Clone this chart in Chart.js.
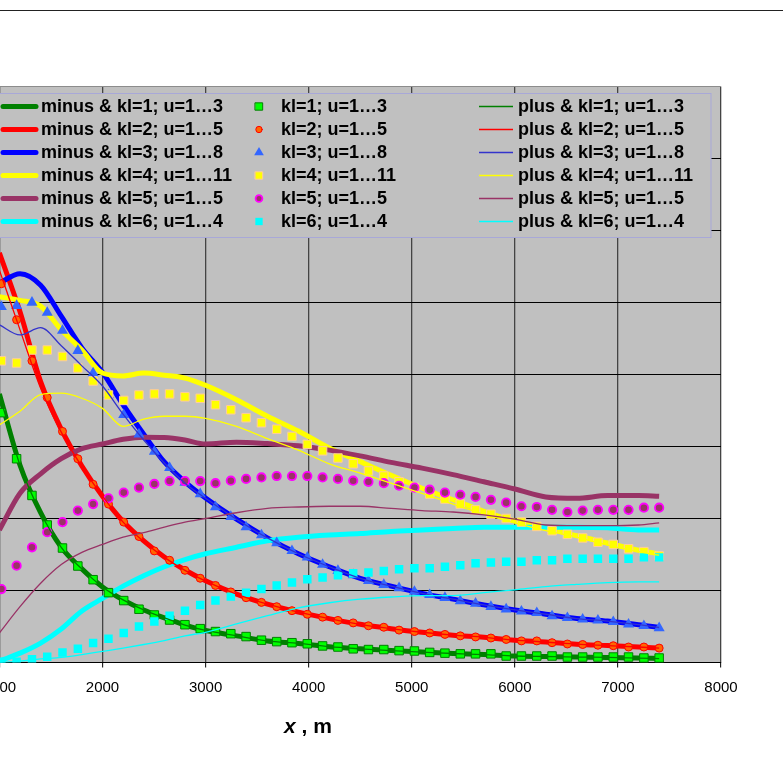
<!DOCTYPE html>
<html>
<head>
<meta charset="utf-8">
<script src="https://cdn.jsdelivr.net/npm/chart.js@4.4.1/dist/chart.umd.min.js"></script>
<style>
  html, body { margin: 0; padding: 0; background: #fff; overflow: hidden; width: 783px; height: 772px; }
  #page { position: relative; width: 783px; height: 772px; overflow: hidden; }
  #rule { position: absolute; left: 0; top: 10px; width: 783px; height: 1px; background: #222; }
  #wrap { position: absolute; left: -40px; top: 0; }
</style>
</head>
<body>
<div id="page">
  <div id="rule"></div>
  <div id="wrap"><canvas id="c" width="823" height="772"></canvas></div>
</div>
<script>
// x positions of the marker series (m)
const markX = [1019, 1167, 1316, 1464, 1612, 1761, 1909, 2058, 2206, 2354, 2503, 2651, 2800, 2948, 3096,
  3245, 3393, 3542, 3690, 3838, 3987, 4135, 4284, 4432, 4580, 4729, 4877, 5026, 5174, 5322, 5471,
  5619, 5768, 5916, 6064, 6213, 6361, 6510, 6658, 6806, 6955, 7103, 7252, 7400];

// x positions sampled for the curves (m)
const lineX = [1000, 1200, 1400, 1600, 1800, 2000, 2200, 2400, 2600, 2800, 3000, 3300, 3600, 3900,
  4200, 4500, 4800, 5100, 5400, 5700, 6000, 6300, 6600, 6900, 7200, 7400];

// "minus" curves
const minusKl1 = [3.73, 2.74, 2.08, 1.60, 1.30, 1.05, 0.87, 0.73, 0.62, 0.52, 0.445, 0.37, 0.30, 0.265, 0.22, 0.19, 0.165, 0.145, 0.125, 0.11, 0.09, 0.083, 0.076, 0.07, 0.062, 0.055];
const minusKl2 = [5.69, 4.87, 3.90, 3.24, 2.73, 2.31, 1.96, 1.69, 1.465, 1.285, 1.135, 0.95, 0.81, 0.70, 0.61, 0.53, 0.47, 0.42, 0.38, 0.35, 0.31, 0.285, 0.255, 0.235, 0.215, 0.20];
const minusKl3 = [5.27, 5.40, 5.24, 4.81, 4.37, 4.03, 3.58, 3.17, 2.785, 2.51, 2.285, 1.99, 1.73, 1.51, 1.33, 1.17, 1.06, 0.96, 0.88, 0.80, 0.73, 0.67, 0.61, 0.575, 0.525, 0.486];
const minusKl4 = [5.08, 5.03, 4.95, 4.62, 4.34, 4.02, 3.98, 4.02, 3.99, 3.95, 3.85, 3.65, 3.42, 3.215, 2.98, 2.79, 2.60, 2.42, 2.26, 2.10, 1.965, 1.87, 1.76, 1.66, 1.56, 1.51];
const minusKl5 = [1.84, 2.35, 2.62, 2.83, 2.97, 3.035, 3.10, 3.13, 3.125, 3.09, 3.035, 3.06, 3.04, 3.01, 2.95, 2.87, 2.78, 2.70, 2.61, 2.51, 2.41, 2.30, 2.28, 2.32, 2.32, 2.31];
const minusKl6 = [0.02, 0.13, 0.27, 0.465, 0.715, 0.89, 1.06, 1.205, 1.33, 1.43, 1.51, 1.60, 1.69, 1.74, 1.77, 1.79, 1.82, 1.84, 1.86, 1.88, 1.88, 1.88, 1.88, 1.87, 1.84, 1.84];

// marker series
const markKl1 = [3.47, 2.83, 2.32, 1.91, 1.59, 1.34, 1.15, 0.97, 0.86, 0.74, 0.66, 0.59, 0.525, 0.47, 0.43, 0.40, 0.36, 0.31, 0.29, 0.275,
  0.26, 0.23, 0.215, 0.19, 0.18, 0.18, 0.165, 0.16, 0.14, 0.13, 0.12, 0.12, 0.12, 0.09, 0.09, 0.09, 0.09, 0.076, 0.076, 0.076, 0.076, 0.076, 0.0625, 0.0625];
const markKl2 = [5.26, 4.76, 4.19, 3.68, 3.21, 2.83, 2.475, 2.20, 1.95, 1.75, 1.55, 1.42, 1.28, 1.17, 1.07, 0.98, 0.90, 0.835, 0.775, 0.72,
  0.67, 0.63, 0.585, 0.55, 0.51, 0.49, 0.45, 0.43, 0.41, 0.39, 0.37, 0.355, 0.34, 0.32, 0.30, 0.30, 0.275, 0.257, 0.25, 0.24, 0.233, 0.215, 0.215, 0.20];
const markKl3 = [4.94, 4.955, 5.00, 4.86, 4.61, 4.33, 4.02, 3.715, 3.44, 3.17, 2.93, 2.705, 2.50, 2.34, 2.16, 2.025, 1.88, 1.77, 1.66, 1.55,
  1.46, 1.36, 1.275, 1.215, 1.135, 1.08, 1.035, 0.985, 0.94, 0.90, 0.855, 0.82, 0.775, 0.74, 0.71, 0.69, 0.645, 0.62, 0.60, 0.585, 0.565, 0.53, 0.51, 0.48];
const markKl4 = [4.19, 4.16, 4.34, 4.34, 4.25, 4.09, 3.91, 3.715, 3.64, 3.715, 3.73, 3.73, 3.69, 3.67, 3.58, 3.51, 3.40, 3.33, 3.24, 3.14,
  3.03, 2.94, 2.84, 2.76, 2.66, 2.59, 2.51, 2.43, 2.34, 2.27, 2.20, 2.12, 2.06, 2.00, 1.95, 1.89, 1.83, 1.78, 1.73, 1.67, 1.64, 1.58, 1.54, 1.48];
const markKl5 = [1.02, 1.345, 1.60, 1.81, 1.95, 2.11, 2.20, 2.28, 2.36, 2.43, 2.48, 2.52, 2.52, 2.52, 2.49, 2.525, 2.55, 2.57, 2.59, 2.59,
  2.59, 2.57, 2.55, 2.525, 2.51, 2.49, 2.455, 2.43, 2.40, 2.36, 2.33, 2.30, 2.26, 2.22, 2.17, 2.16, 2.12, 2.09, 2.11, 2.12, 2.12, 2.12, 2.15, 2.15];
const markKl6 = [0.01, 0.01, 0.045, 0.08, 0.14, 0.19, 0.27, 0.33, 0.41, 0.50, 0.57, 0.65, 0.72, 0.80, 0.86, 0.915, 0.97, 1.02, 1.07, 1.11,
  1.155, 1.18, 1.21, 1.24, 1.25, 1.27, 1.295, 1.31, 1.31, 1.33, 1.35, 1.38, 1.39, 1.40, 1.40, 1.42, 1.42, 1.44, 1.44, 1.44, 1.44, 1.44, 1.46, 1.46];

// "plus" curves (kl=1 lies under the thick green one)
const plusKl1 = [3.73, 2.74, 2.08, 1.60, 1.30, 1.05, 0.87, 0.73, 0.62, 0.52, 0.445, 0.37, 0.30, 0.265, 0.22, 0.19, 0.165, 0.145, 0.125, 0.11, 0.09, 0.083, 0.076, 0.07, 0.062, 0.055];
const plusKl2 = [5.45, 4.62, 3.81, 3.20, 2.72, 2.31, 1.95, 1.68, 1.46, 1.28, 1.13, 0.95, 0.81, 0.70, 0.61, 0.53, 0.47, 0.42, 0.38, 0.35, 0.31, 0.285, 0.255, 0.235, 0.215, 0.20];
const plusKl3 = [4.69, 4.55, 4.65, 4.40, 4.12, 3.84, 3.45, 3.09, 2.77, 2.49, 2.28, 1.99, 1.73, 1.51, 1.33, 1.17, 1.06, 0.96, 0.88, 0.80, 0.73, 0.67, 0.61, 0.575, 0.525, 0.486];
const plusKl4 = [3.30, 3.49, 3.72, 3.74, 3.67, 3.53, 3.28, 3.38, 3.42, 3.42, 3.39, 3.28, 3.11, 2.95, 2.76, 2.63, 2.49, 2.35, 2.20, 2.06, 1.94, 1.83, 1.74, 1.63, 1.54, 1.49];
const plusKl5 = [0.41, 0.775, 1.10, 1.36, 1.53, 1.64, 1.74, 1.805, 1.88, 1.95, 2.00, 2.08, 2.14, 2.16, 2.17, 2.17, 2.14, 2.11, 2.09, 2.05, 1.99, 1.91, 1.90, 1.90, 1.91, 1.94];
const plusKl6 = [0.00, 0.02, 0.05, 0.07, 0.11, 0.155, 0.20, 0.25, 0.305, 0.37, 0.42, 0.535, 0.65, 0.76, 0.83, 0.88, 0.91, 0.93, 0.93, 0.97, 1.01, 1.055, 1.085, 1.11, 1.12, 1.12];

const uRanges = ['1\u20263', '1\u20265', '1\u20268', '1\u202611', '1\u20265', '1\u20264'];
const xTicks = [1000, 2000, 3000, 4000, 5000, 6000, 7000, 8000];
const xTickLabels = ['1000', '2000', '3000', '4000', '5000', '6000', '7000', '8000'];
const xTitleParts = ['x', ' , m'];   // italic symbol, then unit

// styles
const thickColors = ['#008000', '#FF0000', '#0000FF', '#FFFF00', '#993366', '#00FFFF'];
const thinColors = ['#008000', '#FF0000', '#3333CC', '#FFFF00', '#993366', '#00FFFF'];
const markStyles = [
  { style: 'rect', r: 6.0, fill: '#00FF00', line: '#008000', bw: 1 },
  { style: 'circle', r: 4.0, fill: '#FF6600', line: '#FF0000', bw: 1 },
  { style: 'triangle', r: 6.4, fill: '#3366FF', line: '#3366FF', bw: 0 },
  { style: 'rect', r: 6.0, fill: '#FFFF00', line: '#FFCC99', bw: 1 },
  { style: 'circle', r: 4.2, fill: '#993366', line: '#FF00FF', bw: 1.8 },
  { style: 'rect', r: 6.0, fill: '#00FFFF', line: '#00FFFF', bw: 0 }
];
const FONT = '"Liberation Sans", Arial, sans-serif';

const minusSeries = [minusKl1, minusKl2, minusKl3, minusKl4, minusKl5, minusKl6];
const markSeries = [markKl1, markKl2, markKl3, markKl4, markKl5, markKl6];
const plusSeries = [plusKl1, plusKl2, plusKl3, plusKl4, plusKl5, plusKl6];

const toXY = (xs, ys) => xs.map((x, i) => ({ x: x, y: ys[i] }));

const datasets = [];
minusSeries.forEach((ys, k) => {
  datasets.push({
    label: 'minus & kl=' + (k + 1) + '; u=' + uRanges[k],
    data: toXY(lineX, ys),
    showLine: true,
    borderColor: thickColors[k],
    borderWidth: 5,
    pointRadius: 0,
    cubicInterpolationMode: 'monotone',
    order: 19 - k,
    kind: 'thick'
  });
});
markSeries.forEach((ys, k) => {
  const m = markStyles[k];
  datasets.push({
    label: 'kl=' + (k + 1) + '; u=' + uRanges[k],
    data: toXY(markX, ys),
    showLine: false,
    pointStyle: m.style,
    pointRadius: m.r,
    backgroundColor: m.fill,
    borderColor: m.line,
    pointBorderWidth: m.bw,
    order: 11 - k,
    kind: 'mark'
  });
});
plusSeries.forEach((ys, k) => {
  datasets.push({
    label: 'plus & kl=' + (k + 1) + '; u=' + uRanges[k],
    data: toXY(lineX, ys),
    showLine: true,
    borderColor: thinColors[k],
    borderWidth: 1.3,
    pointRadius: 0,
    cubicInterpolationMode: 'monotone',
    order: 4 - k,
    kind: 'thin'
  });
});

// grey plot area
const plotBg = {
  id: 'plotBg',
  beforeDraw(c) {
    const a = c.chartArea;
    c.ctx.save();
    c.ctx.fillStyle = '#C0C0C0';
    c.ctx.fillRect(a.left, a.top, a.width, a.height);
    c.ctx.restore();
  }
};

// legend box inside the plot, three columns of six
const boxLegend = {
  id: 'boxLegend',
  afterDatasetsDraw(c) {
    const ctx = c.ctx;
    const ox = c.chartArea.left + 0.6;   // page x = 0
    const colX = [0, 259, 479];
    ctx.save();
    ctx.fillStyle = '#C0C0C0';
    ctx.fillRect(0, 93, ox + 711, 145);
    ctx.strokeStyle = '#A8A8D8';
    ctx.lineWidth = 1;
    ctx.strokeRect(0.5, 93.5, ox + 711 - 0.5, 144);
    ctx.font = 'bold 18px ' + FONT;
    ctx.textBaseline = 'middle';
    c.data.datasets.forEach((ds, i) => {
      const col = Math.floor(i / 6), row = i % 6;
      const y = 106.5 + row * 23;
      const x0 = ox + colX[col];
      let tx;
      if (ds.kind === 'thick') {
        ctx.strokeStyle = ds.borderColor;
        ctx.lineWidth = 5;
        ctx.lineCap = 'round';
        ctx.beginPath(); ctx.moveTo(x0 + 3, y); ctx.lineTo(x0 + 36, y); ctx.stroke();
        tx = x0 + 41;
      } else if (ds.kind === 'mark') {
        ctx.fillStyle = ds.backgroundColor;
        ctx.strokeStyle = ds.borderColor;
        ctx.lineWidth = ds.pointBorderWidth;
        Chart.helpers.drawPoint(ctx, {
          pointStyle: ds.pointStyle, radius: ds.pointRadius - 0.8,
          rotation: 0, borderWidth: ds.pointBorderWidth
        }, x0, y);
        tx = x0 + 22;
      } else {
        ctx.strokeStyle = ds.borderColor;
        ctx.lineWidth = 1.3;
        ctx.lineCap = 'butt';
        ctx.beginPath(); ctx.moveTo(x0, y); ctx.lineTo(x0 + 34, y); ctx.stroke();
        tx = x0 + 39;
      }
      ctx.fillStyle = '#000';
      ctx.fillText(ds.label, tx, y + 0.5);
    });
    ctx.restore();
  }
};

// axis title "x , m" with the symbol in italics
const axisTitle = {
  id: 'axisTitle',
  afterDraw(c) {
    const ctx = c.ctx;
    const ox = c.chartArea.left + 0.6;
    const fItal = 'italic bold 21px ' + FONT, fBold = 'bold 21px ' + FONT;
    ctx.save();
    ctx.fillStyle = '#000';
    ctx.textBaseline = 'middle';
    ctx.font = fItal;
    const w1 = ctx.measureText(xTitleParts[0]).width;
    ctx.font = fBold;
    const w2 = ctx.measureText(xTitleParts[1]).width;
    const x = ox + 308 - (w1 + w2) / 2;
    ctx.font = fItal;
    ctx.fillText(xTitleParts[0], x, 727);
    ctx.font = fBold;
    ctx.fillText(xTitleParts[1], x + w1, 727);
    ctx.restore();
  }
};

Chart.defaults.font.family = FONT;

new Chart(document.getElementById('c'), {
  type: 'scatter',
  data: { datasets: datasets },
  plugins: [plotBg, boxLegend, axisTitle],
  options: {
    responsive: false,
    devicePixelRatio: 1,
    animation: false,
    events: [],
    layout: { padding: { left: 39.4, right: 62, top: 86.5, bottom: 34.5 } },
    plugins: { legend: { display: false }, tooltip: { enabled: false } },
    scales: {
      x: {
        type: 'linear',
        min: 1000,
        max: 8000,
        afterBuildTicks: s => { s.ticks = xTicks.map(v => ({ value: v })); },
        afterFit: s => { s.height = 75; },
        ticks: {
          callback: (v, i) => xTickLabels[i],
          color: '#000',
          font: { size: 15 },
          padding: 11,
          maxRotation: 0
        },
        grid: { color: '#444', lineWidth: 1.3, tickLength: 5, tickColor: '#000', tickWidth: 1 },
        border: { color: '#000', width: 1 }
      },
      y: {
        min: 0,
        max: 8,
        ticks: { stepSize: 1, display: false },
        grid: {
          drawTicks: false,
          lineWidth: 1,
          color: ctx => (ctx.tick && ctx.tick.value === 8) ? '#8C8C8C' : '#000'
        },
        border: { display: false }
      }
    }
  }
});
</script>
</body>
</html>
